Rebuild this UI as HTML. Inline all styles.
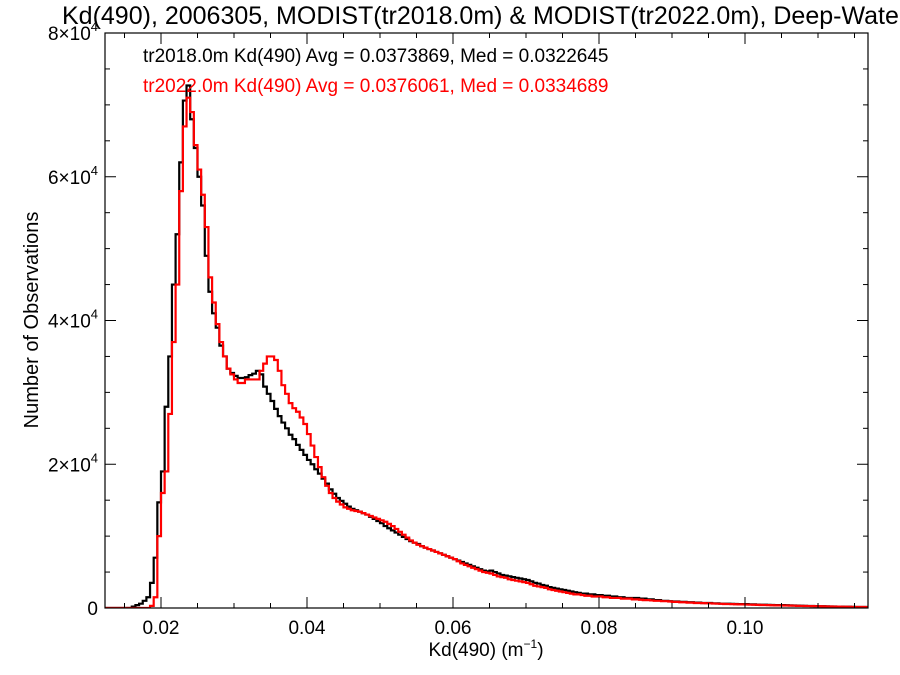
<!DOCTYPE html>
<html><head><meta charset="utf-8"><style>
html,body{margin:0;padding:0;background:#fff;width:900px;height:675px;overflow:hidden}
svg{display:block;font-family:"Liberation Sans",Arial,sans-serif}
</style></head><body>
<svg id="chart" width="900" height="675" viewBox="0 0 900 675">
<text x="62" y="24" font-size="25" fill="#000">Kd(490), 2006305, MODIST(tr2018.0m) &amp; MODIST(tr2022.0m), Deep-Water</text>
<clipPath id="pc"><rect x="105" y="33" width="763" height="575"/></clipPath>
<g id="series" clip-path="url(#pc)"></g>
<rect x="105" y="33" width="763" height="575" fill="none" stroke="#000" stroke-width="1.2"/>
<g id="axes"></g>
<text x="143" y="62" font-size="19" fill="#000">tr2018.0m Kd(490) Avg = 0.0373869, Med = 0.0322645</text>
<text x="143" y="92" font-size="19" fill="#ff0000">tr2022.0m Kd(490) Avg = 0.0376061, Med = 0.0334689</text>
<text x="486" y="656" font-size="19" text-anchor="middle">Kd(490) (m<tspan font-size="12" dy="-8">−1</tspan><tspan dy="8">)</tspan></text>
<text transform="translate(38,320) rotate(-90)" font-size="20" text-anchor="middle">Number of Observations</text>
</svg>
<script>
const binStart = 0.015;
const binWidth = 0.0005;
const seriesNames = ["tr2018.0m", "tr2022.0m"];
const countsTr2018 = [
0,0,0.2,0.4,0.6,1.0,1.5,3.5,7,14.7,
19,28,35,45,52,62,70.6,72.7,68,64,
60,56,49,44,41,39,36.5,35,33.3,32.7,
32.3,32,32,32.1,32.4,32.6,33,32.5,30.8,29.8,
28.8,27.7,26.7,25.8,25,24.1,23.5,22.7,22,21.3,
20.6,20,19.3,18.7,18,17.3,16.5,15.9,15.3,14.9,
14.5,14.1,13.8,13.6,13.4,13.2,13,12.7,12.4,12.1,
11.8,11.4,11.1,10.8,10.5,10.2,9.9,9.6,9.3,9.1,
8.9,8.6,8.4,8.2,8,7.8,7.6,7.4,7.2,7,
6.8,6.6,6.4,6.2,6,5.8,5.6,5.4,5.2,5.1,
5.2,5,4.8,4.6,4.5,4.4,4.3,4.2,4.1,4,
3.9,3.7,3.5,3.4,3.2,3.1,2.9,2.8,2.7,2.6,
2.5,2.4,2.3,2.2,2.1,2,2,1.9,1.9,1.8,
1.8,1.7,1.7,1.6,1.6,1.5,1.5,1.4,1.4,1.4,
1.4,1.3,1.3,1.2,1.2,1.1,1.1,1,1,0.95,
0.9,0.9,0.85,0.85,0.8,0.8,0.75,0.75,0.7,0.7,
0.7,0.65,0.65,0.6,0.6,0.6,0.58,0.56,0.55,0.55,
0.55,0.5,0.5,0.48,0.46,0.45,0.44,0.42,0.41,0.4,
0.4,0.38,0.36,0.35,0.33,0.32,0.3,0.29,0.28,0.26,
0.25,0.24,0.23,0.22,0.21,0.2,0.19,0.18,0.17,0.16,
0.15,0.15,0.14,0.14];
const countsTr2022 = [
0,0,0,0,0,0,0,0.3,1.5,10,
16,19,27,37,45,58,67,71,69,64.4,
61,57.5,53,46,42.5,39.5,37,35,33.3,32.5,
31.8,31.3,31.3,31.8,31.8,31.8,31.8,33,34,35,
35,34.5,33,31,29.8,28.5,27.8,27.3,26.5,25.6,
24.2,22.6,21,19.6,18.2,17,16,15.3,14.8,14.4,
14,13.8,13.6,13.5,13.4,13.2,13,12.8,12.6,12.4,
12.2,12,11.7,11.4,11,10.6,10.2,9.8,9.4,9.1,
8.8,8.6,8.4,8.2,8,7.8,7.6,7.4,7.2,7,
6.8,6.5,6.2,6,5.8,5.6,5.4,5.2,5,4.9,
4.8,4.6,4.4,4.3,4.2,4,3.9,3.8,3.7,3.6,
3.5,3.3,3.1,3,2.9,2.8,2.6,2.5,2.4,2.3,
2.2,2.1,2,1.9,1.9,1.8,1.7,1.7,1.6,1.6,
1.6,1.5,1.5,1.4,1.4,1.4,1.3,1.3,1.3,1.2,
1.2,1.15,1.1,1.1,1.05,1,1,0.95,0.95,0.9,
0.85,0.85,0.8,0.8,0.75,0.75,0.7,0.7,0.68,0.66,
0.65,0.62,0.6,0.58,0.56,0.55,0.54,0.52,0.5,0.5,
0.48,0.46,0.45,0.44,0.42,0.41,0.4,0.38,0.37,0.36,
0.35,0.34,0.33,0.32,0.3,0.29,0.28,0.27,0.26,0.25,
0.24,0.23,0.22,0.21,0.2,0.19,0.18,0.17,0.16,0.15,
0.15,0.14,0.14,0.13];
const xTickValues = [0.02, 0.04, 0.06, 0.08, 0.10];
const xTickLabels = ["0.02", "0.04", "0.06", "0.08", "0.10"];
const yTickValues = [0, 20, 40, 60, 80];
const yTickMant = ["0", "2", "4", "6", "8"];

const NS = "http://www.w3.org/2000/svg";
const X0 = 105, X1 = 868, Y0 = 608, Y1 = 33;
const xMin = 0.01233, xMax = 0.11685, yMax = 80;
function xs(v){ return X0 + (v - xMin) / (xMax - xMin) * (X1 - X0); }
function ys(v){ return Y0 - v / yMax * (Y0 - Y1); }
function mk(tag, attrs, parent){ const e = document.createElementNS(NS, tag); for (const k in attrs) e.setAttribute(k, attrs[k]); parent.appendChild(e); return e; }

const sg = document.getElementById("series");
function drawSeries(counts, color, name){
  let d = "M" + xs(xMin).toFixed(2) + "," + ys(0).toFixed(2);
  for (let i = 0; i < counts.length; i++){
    const a = xs(binStart + i * binWidth), b = xs(binStart + (i + 1) * binWidth), y = ys(counts[i]);
    d += "L" + a.toFixed(2) + "," + y.toFixed(2) + "L" + b.toFixed(2) + "," + y.toFixed(2);
  }
  d += "L" + xs(xMax).toFixed(2) + "," + ys(counts[counts.length-1]).toFixed(2);
  const p = mk("path", {d: d, fill: "none", stroke: color, "stroke-width": 2.2, "stroke-linejoin": "miter"}, sg);
  
  
}
drawSeries(countsTr2018, "#000", "histogram-tr2018");
drawSeries(countsTr2022, "#ff0000", "histogram-tr2022");

const ax = document.getElementById("axes");
for (let v = 0.015; v < xMax; v += 0.005){
  const x = xs(v);
  const major = Math.abs(Math.round(v / 0.02) * 0.02 - v) < 1e-6;
  const L = major ? 11 : 5;
  const t1 = mk("line", {x1: x, x2: x, y1: Y0, y2: Y0 - L, stroke: "#000", "stroke-width": 1}, ax);
  
  
  const t2 = mk("line", {x1: x, x2: x, y1: Y1, y2: Y1 + L, stroke: "#000", "stroke-width": 1}, ax);
  
  
}
xTickValues.forEach((v, i) => {
  const t = mk("text", {x: xs(v), y: 634, "font-size": 19, "text-anchor": "middle"}, ax);
  t.textContent = xTickLabels[i];
  
  
});
for (let v = 0; v <= yMax; v += 5){
  const y = ys(v);
  const L = (v % 20 === 0) ? 11 : 5;
  const t1 = mk("line", {x1: X0, x2: X0 + L, y1: y, y2: y, stroke: "#000", "stroke-width": 1}, ax);
  
  
  const t2 = mk("line", {x1: X1, x2: X1 - L, y1: y, y2: y, stroke: "#000", "stroke-width": 1}, ax);
  
  
}
yTickValues.forEach((v, i) => {
  const t = mk("text", {x: 98, y: ys(v) + 7, "font-size": 19, "text-anchor": "end"}, ax);
  if (v === 0) { t.textContent = yTickMant[i]; }
  else {
    t.textContent = yTickMant[i] + "×10";
    const s = mk("tspan", {"font-size": 13, dy: -9}, t);
    s.textContent = "4";
  }
  
  
});
</script>
</body></html>
